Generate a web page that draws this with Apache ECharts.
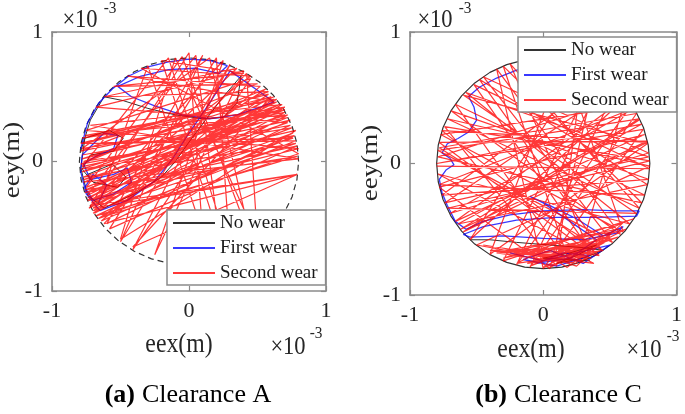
<!DOCTYPE html>
<html><head><meta charset="utf-8">
<script src="https://cdn.jsdelivr.net/npm/echarts@6/dist/echarts.min.js"></script>
<style>html,body{margin:0;padding:0;background:#fff}#c{width:685px;height:414px}</style>
</head><body><div id="c"></div>
<script>
// All coordinates in units of 1e-3 m (axes show "×10^-3")
const TICKS = [-1, 0, 1];
const LEGEND_NAMES = ['No wear', 'First wear', 'Second wear'];
const CAPTIONS = [['(a)', 'Clearance A'], ['(b)', 'Clearance C']];

// Clearance circle (No wear boundary), radius ~0.8
const CIRCLE = [[0.800,0.000],[0.788,0.139],[0.752,0.274],[0.693,0.400],[0.613,0.514],[0.514,0.613],[0.400,0.693],[0.274,0.752],[0.139,0.788],[0.000,0.800],[-0.139,0.788],[-0.274,0.752],[-0.400,0.693],[-0.514,0.613],[-0.613,0.514],[-0.693,0.400],[-0.752,0.274],[-0.788,0.139],[-0.800,0.000],[-0.788,-0.139],[-0.752,-0.274],[-0.693,-0.400],[-0.613,-0.514],[-0.514,-0.613],[-0.400,-0.693],[-0.274,-0.752],[-0.139,-0.788],[0.000,-0.800],[0.139,-0.788],[0.274,-0.752],[0.400,-0.693],[0.514,-0.613],[0.613,-0.514],[0.693,-0.400],[0.752,-0.274],[0.788,-0.139],[0.800,0.000]];

// (a) Clearance A
const NOWEAR_A = [[-0.79,0.08],[-0.72,0.32],[-0.62,0.50],[-0.48,0.47],[-0.30,0.41],[-0.10,0.36],[0.10,0.33],[0.25,0.34],[0.35,0.45],[0.38,0.66],[0.25,0.50],[0.12,0.32],[0.00,0.15],[-0.10,0.00],[-0.20,-0.12],[-0.40,-0.25],[-0.62,-0.36],[-0.74,-0.26],[-0.79,-0.05],[-0.76,0.18],[-0.58,0.24],[-0.48,0.18],[-0.55,0.08],[-0.72,0.05],[-0.78,-0.06],[-0.70,-0.16],[-0.52,-0.20],[-0.46,-0.12],[-0.56,-0.02],[-0.74,-0.10]];
const FIRST_A = [[-0.79,0.10],[-0.74,0.30],[-0.66,0.45],[-0.56,0.56],[-0.44,0.66],[-0.30,0.73],[-0.15,0.77],[0.00,0.79],[0.15,0.78],[0.28,0.74],[0.22,0.68],[0.05,0.72],[-0.15,0.71],[-0.35,0.66],[-0.52,0.58],[-0.42,0.50],[-0.25,0.43],[-0.05,0.36],[0.15,0.33],[0.35,0.36],[0.52,0.42],[0.62,0.46],[0.30,0.70],[0.15,0.45],[0.00,0.22],[-0.12,0.02],[-0.25,-0.15],[-0.45,-0.30],[-0.65,-0.38],[-0.75,-0.25],[-0.79,-0.08],[-0.78,0.05],[-0.62,0.22],[-0.52,0.20],[-0.55,0.10],[-0.68,0.04],[-0.77,-0.02],[-0.72,-0.14],[-0.55,-0.10],[-0.45,-0.05],[-0.42,-0.16],[-0.55,-0.25],[-0.70,-0.30],[-0.76,-0.20],[-0.70,-0.10],[-0.60,-0.18],[-0.66,-0.32]];
const SECOND_A = [[-0.78,0.05],[0.72,0.34],[-0.74,-0.28],[0.66,0.44],[-0.77,-0.12],[0.78,0.14],[-0.70,-0.38],[0.62,0.48],[-0.78,0.18],[0.70,0.42],[-0.76,-0.22],[0.79,0.04],[-0.68,-0.42],[0.74,0.28],[-0.79,-0.02],[0.56,0.56],[-0.72,-0.34],[0.76,0.22],[-0.60,-0.48],[0.10,0.82],[-0.50,-0.62],[0.30,0.75],[-0.41,-0.68],[0.45,0.64],[-0.75,0.24],[0.80,0.10],[-0.73,-0.30],[0.68,0.40],[-0.79,0.08],[0.50,0.60],[-0.55,0.58],[0.40,0.68],[-0.20,0.78],[0.22,-0.58],[0.05,0.82],[-0.74,-0.26],[0.64,0.46],[-0.78,-0.08],[0.72,0.36],[-0.66,-0.44],[0.78,0.16],[-0.76,0.14],[0.60,0.50],[-0.70,-0.36],[0.79,-0.10],[-0.72,-0.34],[0.35,0.72],[-0.62,0.50],[0.58,0.54],[-0.77,0.00],[0.75,0.26],[-0.71,-0.32],[0.00,0.84],[0.10,-0.55],[-0.30,0.74],[-0.69,-0.40],[0.70,0.38],[-0.78,0.10],[0.15,0.80],[0.45,-0.60],[-0.05,0.81],[-0.75,-0.20],[0.66,0.42],[-0.79,-0.06],[0.77,0.20],[-0.64,-0.46],[0.52,0.58],[-0.45,0.66],[0.62,0.46],[-0.77,-0.16],[0.80,0.02],[-0.72,0.28],[0.68,0.44],[-0.73,-0.36],[0.25,0.78],[-0.25,-0.72],[0.40,0.70],[-0.68,0.42],[0.72,0.30],[-0.76,-0.24],[0.79,0.12],[-0.58,-0.52],[0.20,0.80],[0.30,-0.70],[-0.15,0.80],[-0.78,-0.04],[0.74,0.32],[-0.70,-0.40],[0.58,0.52],[-0.79,0.14],[0.76,0.18],[-0.74,-0.30],[0.45,0.66],[-0.35,0.72],[0.80,0.06],[-0.66,-0.44],[0.64,0.48],[-0.76,0.20],[0.70,0.36],[-0.77,-0.14],[0.78,0.24],[-0.50,-0.60],[-0.10,0.80],[0.50,-0.60],[0.42,0.68],[-0.62,-0.48],[0.79,-0.10],[-0.41,-0.66],[0.60,0.50],[-0.78,0.02],[0.70,0.40],[-0.75,-0.22],[0.62,0.50]];

// (b) Clearance C
const NOWEAR_B = [[-0.55,-0.58],[-0.40,-0.58],[-0.20,-0.60],[0.05,-0.62],[0.30,-0.64],[0.45,-0.66],[0.30,-0.72],[0.10,-0.76],[0.25,-0.70],[0.40,-0.62],[0.20,-0.68],[0.00,-0.72],[0.35,-0.74]];
const FIRST_B = [[-0.05,0.74],[-0.20,0.71],[-0.35,0.65],[-0.48,0.58],[-0.56,0.51],[-0.52,0.43],[-0.50,0.33],[-0.56,0.24],[-0.64,0.19],[-0.72,0.15],[-0.76,0.08],[-0.70,0.04],[-0.67,-0.01],[-0.73,-0.05],[-0.78,-0.12],[-0.76,-0.22],[-0.72,-0.32],[-0.66,-0.44],[-0.58,-0.50],[-0.45,-0.44],[-0.25,-0.39],[0.00,-0.36],[0.30,-0.35],[0.55,-0.36],[0.72,-0.36],[0.70,-0.40],[0.40,-0.41],[0.10,-0.41],[-0.20,-0.43],[-0.45,-0.48],[-0.60,-0.54],[-0.55,-0.56],[-0.30,-0.55],[0.00,-0.57],[0.30,-0.58],[0.55,-0.53],[0.60,-0.48],[0.45,-0.55],[0.25,-0.42],[0.05,-0.32],[-0.10,-0.25],[0.00,-0.30],[0.20,-0.44],[0.40,-0.58],[0.20,-0.72],[-0.05,-0.76],[0.15,-0.68],[0.35,-0.70],[0.10,-0.78],[-0.15,-0.73],[0.05,-0.66],[0.30,-0.76],[0.50,-0.62],[0.25,-0.68],[0.00,-0.74],[-0.25,-0.68]];
const SECOND_B = [[-0.80,-0.02],[0.80,-0.04],[-0.52,0.60],[0.38,-0.70],[-0.78,0.16],[0.78,0.17],[-0.62,-0.50],[0.72,0.34],[-0.79,0.10],[0.52,-0.60],[-0.45,0.66],[0.79,0.08],[-0.70,-0.38],[0.68,0.42],[-0.78,-0.16],[0.76,-0.24],[-0.66,0.45],[0.20,-0.77],[-0.30,0.74],[0.74,-0.30],[-0.79,0.05],[0.62,0.50],[-0.55,-0.58],[0.30,0.74],[0.10,-0.78],[-0.74,0.28],[0.80,0.02],[-0.72,-0.34],[0.70,-0.38],[-0.60,0.52],[0.78,0.15],[-0.40,-0.69],[0.15,0.78],[0.60,-0.52],[-0.77,0.22],[0.66,0.44],[-0.20,-0.77],[0.45,0.66],[-0.76,-0.24],[0.79,-0.12],[-0.69,0.40],[0.58,-0.54],[-0.35,0.72],[0.00,-0.80],[0.75,0.26],[-0.80,0.00],[0.74,0.30],[-0.64,-0.46],[0.78,-0.16],[-0.48,0.64],[0.44,-0.66],[-0.78,0.12],[0.70,0.38],[-0.10,-0.79],[0.55,0.58],[-0.74,-0.30],[0.79,0.05],[-0.58,0.54],[0.65,-0.46],[-0.79,-0.08],[0.36,-0.70],[-0.25,0.76],[0.72,-0.34],[-0.72,0.34],[0.80,-0.02],[-0.50,-0.62],[0.25,-0.76],[0.62,0.50],[-0.66,-0.44],[0.76,0.22],[-0.78,-0.18],[0.05,-0.80],[0.40,0.69],[-0.30,-0.74],[0.68,-0.42],[-0.30,-0.72],[0.35,-0.58],[-0.10,-0.78],[0.50,-0.55],[0.05,-0.70],[-0.45,-0.62],[0.30,-0.74],[0.10,-0.60],[-0.20,-0.76],[0.45,-0.66],[0.00,-0.79],[0.55,-0.50],[-0.15,-0.65],[0.25,-0.78],[0.60,-0.45],[-0.05,-0.74],[0.40,-0.62],[-0.35,-0.68],[0.15,-0.75],[0.48,-0.58],[-0.25,-0.70],[0.20,-0.66],[0.38,-0.76],[-0.08,-0.70],[0.62,-0.50],[0.05,-0.79],[0.32,-0.64],[-0.40,-0.66],[0.12,-0.72],[0.56,-0.56],[-0.12,-0.76],[0.28,-0.70],[0.46,-0.60],[-0.02,-0.66],[0.18,-0.79],[0.52,-0.52],[-0.28,-0.66],[0.36,-0.72],[0.08,-0.64],[0.42,-0.70],[-0.76,0.25],[0.78,0.16],[-0.60,-0.52],[0.72,0.33]];

const FONT = 'Liberation Serif';
const BOX = '#8a8a8a';
const TXT = '#262626';
const COL = {nowear: '#333333', first: 'rgba(0,0,255,0.78)', second: 'rgba(255,0,0,0.78)'};

const grids = [
  {left: 52, top: 32, width: 274, height: 259},
  {left: 410, top: 32, width: 270, height: 263}
];

function xAx(gi, pos, labels) {
  return {gridIndex: gi, type: 'value', min: TICKS[0], max: TICKS[2], interval: 1, position: pos,
    axisLine: {show: true, onZero: false, lineStyle: {color: BOX, width: 1.6}},
    axisTick: {show: true, inside: true, length: 5, lineStyle: {color: BOX, width: 1.2}},
    axisLabel: {show: labels, color: TXT, fontFamily: FONT, fontSize: 22, margin: 9},
    splitLine: {show: false}};
}
const xAxis = [], yAxis = [];
for (let g = 0; g < 2; g++) {
  xAxis.push(xAx(g, 'bottom', true), xAx(g, 'top', false));
  yAxis.push(xAx(g, 'left', true), xAx(g, 'right', false));
}
function line(name, data, g, color, width, dash, z) {
  return {type: 'line', name, data, xAxisIndex: 2 * g, yAxisIndex: 2 * g, showSymbol: false, symbol: 'none',
    lineStyle: {color, width, type: dash || 'solid'}, itemStyle: {color}, z, silent: true, animation: false};
}
const series = [
  line('No wear', CIRCLE, 0, COL.nowear, 1.2, [6, 4], 1),
  line('No wear', NOWEAR_A, 0, COL.nowear, 1, null, 2),
  line('First wear', FIRST_A, 0, COL.first, 1.3, null, 3),
  line('Second wear', SECOND_A, 0, COL.second, 1.2, null, 4),
  line('No wear', CIRCLE, 1, COL.nowear, 1.2, null, 1),
  line('No wear', NOWEAR_B, 1, COL.nowear, 1, null, 2),
  line('First wear', FIRST_B, 1, COL.first, 1.3, null, 3),
  line('Second wear', SECOND_B, 1, COL.second, 1.2, null, 4)
];
function leg(left, top) {
  return {left, top, orient: 'vertical', data: LEGEND_NAMES, icon: 'rect', itemWidth: 42, itemHeight: 2,
    itemGap: 3, padding: [2, 8, 1, 6], backgroundColor: '#fff', borderColor: BOX, borderWidth: 1.5,
    borderRadius: 0, selectedMode: false, z: 10,
    textStyle: {fontFamily: FONT, fontSize: 19, color: '#1a1a1a', lineHeight: 22}};
}
function txt(x, y, text, size, opts, extra) {
  return Object.assign({type: 'text', x, y, z: 20, silent: true,
    style: Object.assign({text, fontFamily: FONT, fontSize: size, fill: TXT, align: 'center', verticalAlign: 'middle'}, extra || {})}, opts || {});
}
const graphic = [
  txt(80, 20, '×10', 25, {scaleX: 0.9}), txt(110, 9, '-3', 17, {scaleX: 0.9}),
  txt(288, 347, '×10', 25, {scaleX: 0.9}), txt(316, 334, '-3', 17, {scaleX: 0.9}),
  txt(435, 20, '×10', 25, {scaleX: 0.9}), txt(465, 9, '-3', 17, {scaleX: 0.9}),
  txt(644, 350, '×10', 25, {scaleX: 0.9}), txt(673, 337, '-3', 17, {scaleX: 0.9}),
  txt(179, 345, 'eex(m)', 27, {scaleX: 0.88}),
  txt(531, 350, 'eex(m)', 27, {scaleX: 0.88}),
  txt(13, 160, 'eey(m)', 27, {rotation: Math.PI / 2, scaleY: 0.88}),
  txt(371, 163, 'eey(m)', 27, {rotation: Math.PI / 2, scaleY: 0.88}),
  txt(135, 395, CAPTIONS[0][0], 26, null, {align: 'right', fontWeight: 'bold', fill: '#000'}),
  txt(142, 395, CAPTIONS[0][1], 26, null, {align: 'left', fill: '#000'}),
  txt(507, 395, CAPTIONS[1][0], 26, null, {align: 'right', fontWeight: 'bold', fill: '#000'}),
  txt(514, 395, CAPTIONS[1][1], 26, null, {align: 'left', fill: '#000'})
];
const chart = echarts.init(document.getElementById('c'), null, {renderer: 'canvas'});
chart.setOption({
  animation: false, backgroundColor: '#fff',
  grid: grids, xAxis, yAxis, series,
  legend: [leg(167, 210), leg(518, 37)],
  graphic
});
</script></body></html>
